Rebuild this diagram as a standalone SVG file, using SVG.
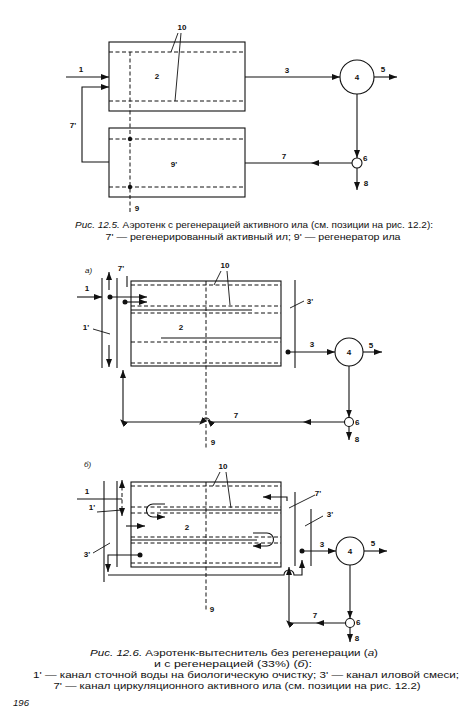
<svg xmlns="http://www.w3.org/2000/svg" width="466" height="725" viewBox="0 0 466 725">
<defs>
<style>
.ln{stroke:#111;stroke-width:1.1;fill:none}
.ds{stroke:#111;stroke-width:1;fill:none;stroke-dasharray:4,2.5}
.bx{stroke:#111;stroke-width:1.1;fill:#fff}
.lb{font-family:"Liberation Sans",Arial,sans-serif;font-size:8px;font-weight:bold;fill:#111}
.it{font-style:italic}
.cap{font-family:"Liberation Sans",Arial,sans-serif;font-size:9.6px;fill:#111}
.dot{fill:#111}
</style>
<marker id="ah" markerUnits="userSpaceOnUse" markerWidth="8" markerHeight="6" refX="8" refY="3" orient="auto-start-reverse"><path d="M0,0 L8,3 L0,6 z" fill="#111"/></marker>
<marker id="am" markerUnits="userSpaceOnUse" markerWidth="8" markerHeight="6" refX="4" refY="3" orient="auto"><path d="M0,0 L8,3 L0,6 z" fill="#111"/></marker>
</defs>

<!-- ===== Fig 12.5 ===== -->
<g id="f5-aerotank">
<rect class="bx" x="109" y="42" width="136" height="69"/>
<line class="ds" x1="109" y1="52" x2="245" y2="52"/>
<line class="ds" x1="109" y1="101" x2="245" y2="101"/>
<text class="lb" x="157" y="79" text-anchor="middle">2</text>
</g>
<g id="f5-regenerator">
<rect class="bx" x="109" y="128" width="136" height="69"/>
<line class="ds" x1="109" y1="139" x2="245" y2="139"/>
<line class="ds" x1="109" y1="187" x2="245" y2="187"/>
<text class="lb" x="174" y="167" text-anchor="middle">9'</text>
</g>
<g id="f5-settler">
<circle class="bx" cx="357" cy="77" r="17"/>
<text class="lb" x="357" y="80" text-anchor="middle">4</text>
</g>
<g id="f5-splitter">
<circle class="bx" cx="357" cy="163" r="5"/>
<text class="lb" x="363" y="161">6</text>
</g>
<g id="f5-connectors">
<line class="ds" x1="130" y1="52" x2="130" y2="212"/>
<circle class="dot" cx="130" cy="139" r="2.2"/>
<circle class="dot" cx="130" cy="187" r="2.2"/>
<path class="ln" d="M66,77 H109" marker-end="url(#ah)"/>
<path class="ln" d="M109,162 H82 V87 H109" marker-end="url(#ah)"/>
<path class="ln" d="M245,77 H340" marker-end="url(#ah)"/>
<path class="ln" d="M374,77 H397" marker-end="url(#ah)"/>
<path class="ln" d="M357,94 V158" marker-end="url(#ah)"/>
<path class="ln" d="M357,168 V190" marker-end="url(#ah)"/>
<path class="ln" d="M352,163 L315,163 L245,163" marker-mid="url(#am)"/>
<path class="ln" d="M178,33 L171,52 M181,33 L175,101" style="stroke-width:0.9"/>
</g>
<g id="f5-labels">
<text class="lb" x="182" y="30" text-anchor="middle">10</text>
<text class="lb" x="81" y="72" text-anchor="middle">1</text>
<text class="lb" x="73" y="128" text-anchor="middle">7'</text>
<text class="lb" x="287" y="73" text-anchor="middle">3</text>
<text class="lb" x="383" y="72" text-anchor="middle">5</text>
<text class="lb" x="366" y="186" text-anchor="middle">8</text>
<text class="lb" x="284" y="159" text-anchor="middle">7</text>
<text class="lb" x="137" y="211" text-anchor="middle">9</text>
</g>
<g id="caption-12-5">
<text class="cap" x="254" y="228" text-anchor="middle" textLength="358" lengthAdjust="spacingAndGlyphs"><tspan class="it">Рис. 12.5.</tspan> Аэротенк с регенерацией активного ила (см. позиции на рис. 12.2):</text>
<text class="cap" x="253" y="240" text-anchor="middle" textLength="295" lengthAdjust="spacingAndGlyphs">7' — регенерированный активный ил; 9' — регенератор ила</text>
</g>

<!-- ===== Fig 12.6 a ===== -->
<g id="f6a-channels">
<line class="ln" x1="102" y1="278" x2="102" y2="368"/>
<line class="ln" x1="117" y1="278" x2="117" y2="368"/>
<line class="ln" x1="127" y1="276" x2="127" y2="287"/>
<line class="ln" x1="295" y1="280" x2="295" y2="368"/>
</g>
<g id="f6a-aerotank">
<rect class="bx" x="131" y="281" width="150" height="85"/>
<line class="ds" x1="131" y1="285" x2="281" y2="285"/>
<line class="ds" x1="131" y1="306" x2="281" y2="306"/>
<line class="ln" x1="131" y1="310" x2="252" y2="310"/>
<line class="ds" x1="131" y1="313" x2="281" y2="313"/>
<line class="ln" x1="161" y1="338" x2="281" y2="338"/>
<line class="ds" x1="131" y1="342" x2="281" y2="342"/>
<line class="ds" x1="131" y1="363" x2="281" y2="363"/>
<text class="lb" x="181" y="330" text-anchor="middle">2</text>
</g>
<g id="f6a-settler">
<circle class="bx" cx="349" cy="352" r="14"/>
<text class="lb" x="349" y="355" text-anchor="middle">4</text>
</g>
<g id="f6a-splitter">
<circle class="bx" cx="349" cy="422" r="4.5"/>
<text class="lb" x="355" y="425">6</text>
</g>
<g id="f6a-connectors">
<line class="ds" x1="206" y1="281" x2="206" y2="448"/>
<path class="ln" d="M109,290 V272" marker-end="url(#ah)"/>
<path class="ln" d="M109,345 V367" marker-end="url(#ah)"/>
<path class="ln" d="M77,297 H102" marker-end="url(#ah)"/>
<circle class="dot" cx="110" cy="297" r="2.5"/>
<path class="ln" d="M110,297 H147" marker-end="url(#ah)"/>
<circle class="dot" cx="125" cy="302" r="2.5"/>
<path class="ln" d="M125,302 H147" marker-end="url(#ah)"/>
<circle class="dot" cx="288" cy="352" r="2.5"/>
<path class="ln" d="M288,352 H335" marker-end="url(#ah)"/>
<path class="ln" d="M363,352 H382" marker-end="url(#ah)"/>
<path class="ln" d="M349,366 V417.5" marker-end="url(#ah)"/>
<path class="ln" d="M349,426.5 V440" marker-end="url(#ah)"/>
<path class="ln" d="M344.5,422 L307,422 L210,422 A4,4 0 0 0 202,422 H123 V370" marker-mid="url(#am)" marker-end="url(#ah)"/>
<path class="ln" d="M221,271 L214,285 M227,271 L230,305 M93,329 L110,334 M290,308 L304,301" style="stroke-width:0.9"/>
</g>
<g id="f6a-labels">
<text class="lb it" x="85" y="273" style="font-weight:normal">а)</text>
<text class="lb" x="121" y="271" text-anchor="middle">7'</text>
<text class="lb" x="225" y="268" text-anchor="middle">10</text>
<text class="lb" x="87" y="291" text-anchor="middle">1</text>
<text class="lb" x="86" y="330" text-anchor="middle">1'</text>
<text class="lb" x="310" y="304" text-anchor="middle">3'</text>
<text class="lb" x="312" y="347" text-anchor="middle">3</text>
<text class="lb" x="371" y="348" text-anchor="middle">5</text>
<text class="lb" x="357" y="442" text-anchor="middle">8</text>
<text class="lb" x="236" y="418" text-anchor="middle">7</text>
<text class="lb" x="213" y="445" text-anchor="middle">9</text>
</g>

<!-- ===== Fig 12.6 b ===== -->
<g id="f6b-channels">
<line class="ln" x1="104" y1="481" x2="104" y2="582"/>
<line class="ln" x1="117" y1="481" x2="117" y2="567"/>
<line class="ln" x1="295" y1="492" x2="295" y2="566"/>
<line class="ln" x1="311" y1="509" x2="311" y2="566"/>
</g>
<g id="f6b-aerotank">
<rect class="bx" x="131" y="482" width="150" height="85"/>
<line class="ds" x1="131" y1="486" x2="281" y2="486"/>
<line class="ds" x1="131" y1="507" x2="281" y2="507"/>
<line class="ln" x1="160" y1="510" x2="281" y2="510"/>
<line class="ds" x1="131" y1="513" x2="281" y2="513"/>
<line class="ds" x1="131" y1="537" x2="281" y2="537"/>
<line class="ln" x1="131" y1="540" x2="257" y2="540"/>
<line class="ds" x1="131" y1="543" x2="281" y2="543"/>
<line class="ds" x1="131" y1="563" x2="281" y2="563"/>
<text class="lb" x="187" y="530" text-anchor="middle">2</text>
</g>
<g id="f6b-settler">
<circle class="bx" cx="350" cy="551" r="14"/>
<text class="lb" x="350" y="554" text-anchor="middle">4</text>
</g>
<g id="f6b-splitter">
<circle class="bx" cx="350" cy="623" r="4.5"/>
<text class="lb" x="356" y="625">6</text>
</g>
<g id="f6b-connectors">
<line class="ds" x1="206" y1="482" x2="206" y2="610"/>
<path class="ds" d="M122,480 V516" marker-start="url(#ah)" marker-end="url(#ah)"/>
<path class="ln" d="M77,499 H122"/>
<path class="ln" d="M126,526 H145" marker-end="url(#ah)"/>
<path class="ln" d="M165,504 H153 A6.5,6.5 0 0 0 153,517 H165" marker-end="url(#ah)"/>
<path class="ln" d="M253,533 H267 A6.5,6.5 0 0 1 267,546 H253" marker-end="url(#ah)"/>
<path class="ln" d="M287,501 L287,497 H263" marker-end="url(#ah)"/>
<circle class="dot" cx="140" cy="555" r="2.5"/>
<path class="ln" d="M140,555 H108 V572" marker-end="url(#ah)"/>
<path class="ln" d="M108,575 H284 A5,5 0 0 1 294,575 H302 V560" marker-end="url(#ah)"/>
<circle class="dot" cx="302" cy="551" r="2.5"/>
<path class="ln" d="M302,551 H336" marker-end="url(#ah)"/>
<path class="ln" d="M364,551 H387" marker-end="url(#ah)"/>
<path class="ln" d="M350,565 V618.5" marker-end="url(#ah)"/>
<path class="ln" d="M350,627.5 V642" marker-end="url(#ah)"/>
<path class="ln" d="M345.5,623 L320,623 L289,623 V567" marker-mid="url(#am)" marker-end="url(#ah)"/>
<path class="ln" d="M220,472 L213,486 M226,472 L231,508 M97,512 L122,510 M93,553 L110,543 M289,508 L315,495 M305,526 L323,516" style="stroke-width:0.9"/>
</g>
<g id="f6b-labels">
<text class="lb it" x="84" y="467" style="font-weight:normal">б)</text>
<text class="lb" x="223" y="469" text-anchor="middle">10</text>
<text class="lb" x="87" y="494" text-anchor="middle">1</text>
<text class="lb" x="92" y="510" text-anchor="middle">1'</text>
<text class="lb" x="87" y="557" text-anchor="middle">3'</text>
<text class="lb" x="318" y="496" text-anchor="middle">7'</text>
<text class="lb" x="330" y="517" text-anchor="middle">3'</text>
<text class="lb" x="322" y="547" text-anchor="middle">3</text>
<text class="lb" x="373" y="546" text-anchor="middle">5</text>
<text class="lb" x="357" y="641" text-anchor="middle">8</text>
<text class="lb" x="315" y="618" text-anchor="middle">7</text>
<text class="lb" x="212" y="612" text-anchor="middle">9</text>
</g>
<g id="caption-12-6">
<text class="cap" x="234" y="656" text-anchor="middle" textLength="288" lengthAdjust="spacingAndGlyphs"><tspan class="it">Рис. 12.6.</tspan> Аэротенк-вытеснитель без регенерации (<tspan class="it">а</tspan>)</text>
<text class="cap" x="233" y="667" text-anchor="middle" textLength="158" lengthAdjust="spacingAndGlyphs">и с регенерацией (33%) (<tspan class="it">б</tspan>):</text>
<text class="cap" x="246" y="678" text-anchor="middle" textLength="426" lengthAdjust="spacingAndGlyphs">1' — канал сточной воды на биологическую очистку; 3' — канал иловой смеси;</text>
<text class="cap" x="237" y="689" text-anchor="middle" textLength="367" lengthAdjust="spacingAndGlyphs">7' — канал циркуляционного активного ила (см. позиции на рис. 12.2)</text>
<text class="cap it" x="13" y="706">196</text>
</g>
</svg>
